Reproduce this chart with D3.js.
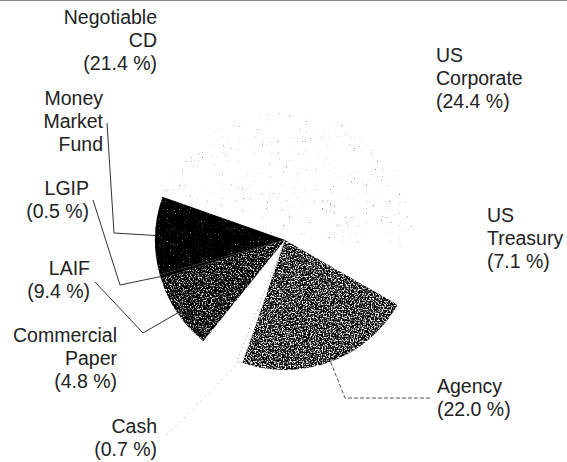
<!DOCTYPE html>
<html>
<head>
<meta charset="utf-8">
<script src="https://cdn.jsdelivr.net/npm/d3@7"></script>
<style>
  body { margin: 0; background: #fff; }
  svg { display: block; }
  text { font-family: "Liberation Sans", Arial, sans-serif; font-size: 19.5px; fill: #222; }
</style>
</head>
<body>
<script>
// data, clockwise from the top
const categories = ["US Corporate", "US Treasury", "Agency", "Cash", "Commercial Paper", "LAIF", "LGIP", "Money Market Fund", "Negotiable CD"];
const shares = [24.4, 7.1, 22.0, 0.7, 4.8, 9.4, 0.5, 9.7, 21.4];
const labelLines = [
    ["US", "Corporate", "(24.4 %)"],
    ["US", "Treasury", "(7.1 %)"],
    ["Agency", "(22.0 %)"],
    ["Cash", "(0.7 %)"],
    ["Commercial", "Paper", "(4.8 %)"],
    ["LAIF", "(9.4 %)"],
    ["LGIP", "(0.5 %)"],
    ["Money", "Market", "Fund"],
    ["Negotiable", "CD", "(21.4 %)"]
];

function main(){
    const width = 567, height = 462;
    const cx = 285, cy = 240, radius = 130;
    const startDeg = 6.5;
    const lineStep = 23;

    // label placement: x, first baseline, anchor
    const labelPos = {
        "US Corporate": [436, 62, "start"],
        "US Treasury": [487, 222, "start"],
        "Agency": [437, 393, "start"],
        "Cash": [157, 433, "end"],
        "Commercial Paper": [117, 342, "end"],
        "LAIF": [90, 275, "end"],
        "LGIP": [89, 195, "end"],
        "Money Market Fund": [103, 105, "end"],
        "Negotiable CD": [157, 24, "end"]
    };
    // leader line bends (page coords), starting from the slice edge
    const leaderBends = {
        "Money Market Fund": [[114, 233], [107, 123]],
        "LGIP": [[120, 285], [93, 200]],
        "LAIF": [[143, 333], [95, 282]],
        "Agency": [[345, 398], [432, 398]],
        "Cash": [[165, 437]]
    };
    const leaderStyle = {
        "Agency": {stroke: "#555", dash: "4,2"},
        "Cash": {stroke: "#aaa", dash: "1,5"}
    };
    const fillOf = {
        "US Corporate": "light", "Negotiable CD": "light",
        "US Treasury": null, "Cash": null, "Commercial Paper": null,
        "Agency": "agency", "LAIF": "laif", "LGIP": "black", "Money Market Fund": "mmf"
    };

    const svg = d3.select("body").append("svg")
        .attr("width", width)
        .attr("height", height);

    svg.append("rect").attr("width", width).attr("height", height).attr("fill", "#fff");
    svg.append("line").attr("x1", 0).attr("x2", width).attr("y1", 0.5).attr("y2", 0.5)
        .attr("stroke", "#888").attr("stroke-width", 1);

    const defs = svg.append("defs");
    function noiseFilter(id, seed, freq, octaves, matrix){
        const f = defs.append("filter").attr("id", id)
            .attr("filterUnits", "userSpaceOnUse")
            .attr("x", -cx).attr("y", -cy).attr("width", width).attr("height", height)
            .attr("color-interpolation-filters", "sRGB");
        f.append("feTurbulence").attr("type", "fractalNoise").attr("baseFrequency", freq)
            .attr("numOctaves", octaves).attr("seed", seed).attr("result", "n");
        f.append("feColorMatrix").attr("in", "n").attr("type", "matrix").attr("values", matrix).attr("result", "c");
        f.append("feComposite").attr("in", "c").attr("in2", "SourceGraphic").attr("operator", "in");
    }
    noiseFilter("light", 3, 0.75, 2, "0 0 0 0 0.5  0 0 0 0 0.5  0 0 0 0 0.5  9 0 0 0 -6.7");
    noiseFilter("agency", 5, 0.75, 2, "4.5 0 0 0 -2.05  4.5 0 0 0 -2.05  4.5 0 0 0 -2.05  0 0 0 0 1");
    noiseFilter("laif", 7, 0.75, 2, "4.5 0 0 0 -2.3  4.5 0 0 0 -2.3  4.5 0 0 0 -2.3  0 0 0 0 1");
    noiseFilter("mmf", 9, 0.75, 2, "5 0 0 0 -3.5  5 0 0 0 -3.5  5 0 0 0 -3.5  0 0 0 0 1");

    const data = categories.map((c, i) => ({name: c, value: shares[i], lines: labelLines[i]}));

    const pie = d3.pie()
        .value(d => d.value)
        .sort(null)
        .startAngle(startDeg * Math.PI / 180)
        .endAngle(startDeg * Math.PI / 180 + 2 * Math.PI);
    const arc = d3.arc().innerRadius(0).outerRadius(radius);
    const arcs = pie(data);

    const g = svg.append("g").attr("transform", "translate(" + cx + "," + cy + ")");

    g.selectAll("path.slice")
        .data(arcs)
        .enter().append("path")
        .attr("class", "slice")
        .attr("d", arc)
        .attr("fill", d => fillOf[d.data.name] ? "#000" : "#fff")
        .attr("filter", d => {
            const f = fillOf[d.data.name];
            return (f && f !== "black") ? "url(#" + f + ")" : null;
        });

    // dotted edge of the cash slice
    g.selectAll("path.cash")
        .data(arcs.filter(d => d.data.name === "Cash"))
        .enter().append("path")
        .attr("class", "cash")
        .attr("d", arc)
        .attr("fill", "none")
        .attr("stroke", "#999")
        .attr("stroke-width", 1)
        .attr("stroke-dasharray", "1,3");

    // leader lines from the outer edge at the slice middle
    const edgePoint = function(d){
        const a = (d.startAngle + d.endAngle) / 2;
        return [cx + radius * Math.sin(a), cy - radius * Math.cos(a)];
    };
    const line = d3.line();
    svg.selectAll("path.leader")
        .data(arcs.filter(d => leaderBends[d.data.name]))
        .enter().append("path")
        .attr("class", "leader")
        .attr("d", d => line([edgePoint(d)].concat(leaderBends[d.data.name])))
        .attr("fill", "none")
        .attr("stroke", d => leaderStyle[d.data.name] ? leaderStyle[d.data.name].stroke : "#333")
        .attr("stroke-width", 1)
        .attr("stroke-dasharray", d => leaderStyle[d.data.name] ? leaderStyle[d.data.name].dash : null);

    // labels
    const labels = svg.selectAll("text.label")
        .data(arcs)
        .enter().append("text")
        .attr("class", "label")
        .attr("text-anchor", d => labelPos[d.data.name][2]);
    labels.selectAll("tspan")
        .data(d => d.data.lines.map((t, i) => ({t: t, i: i, p: labelPos[d.data.name]})))
        .enter().append("tspan")
        .attr("x", d => d.p[0])
        .attr("y", d => d.p[1] + d.i * lineStep)
        .text(d => d.t);
}
main();
</script>
</body>
</html>
